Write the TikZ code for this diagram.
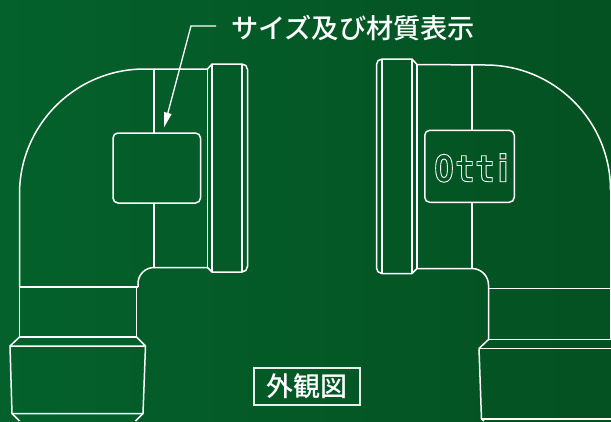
\documentclass[tikz,border=0pt]{standalone}
\usepackage{fontspec}
\usetikzlibrary{arrows.meta}
\newfontfamily\cjkm{Noto Sans CJK JP Medium}
\newfontfamily\monof[FakeStretch=0.88]{DejaVu Sans Mono Bold}
\newfontfamily\plainf[FakeStretch=0.88]{DejaVu Sans Bold}
\definecolor{bgl}{RGB}{4,97,43}
\definecolor{bgr}{RGB}{4,81,33}
\tikzset{
  part/.style={draw=white,line width=1.5pt,line join=round},
  plate/.style={part,rounded corners=5pt},
  leader/.style={draw=white,line width=1.3pt,-{Triangle[length=15pt,width=7.5pt]}},
  title/.style={text=white,inner sep=0pt,font=\cjkm\fontsize{27.2}{28}\selectfont},
  capbox/.style={draw=white!90!bgl,line width=1.5pt,inner sep=0pt,minimum width=106pt,minimum height=37pt,text=white,font=\cjkm\fontsize{27}{28}\selectfont}
}
\newcommand{\outl}[1]{\special{pdf:code q 1 Tr 0.9 w 1 1 1 RG}#1\special{pdf:code Q}}
\begin{document}
\begin{tikzpicture}[x=1pt,y=-1pt]
\useasboundingbox (0,0) rectangle (611,421);
\shade[left color=bgl,right color=bgr] (0,0) rectangle (611,421);
% left elbow
\draw[part] (19.5,287) -- (19.5,194) arc[start angle=180,end angle=270,radius=125] -- (207.5,69) -- (212,64)
  -- (242,64) arc[start angle=-90,end angle=0,radius=5.5] -- (247.5,266.5) arc[start angle=0,end angle=90,radius=5.5]
  -- (212,272) -- (207.5,267.5) -- (154,267.5) arc[start angle=270,end angle=180,radius=16] -- (138,287);
\draw[part] (207.5,69) -- (207.5,267.5);
\draw[part] (212,64) -- (212,272);
\draw[part] (242,64) -- (242,272);
\node[plate,minimum width=87.5pt,minimum height=70pt,inner sep=0pt] (plateL) at (156.75,168) {};
\draw[part] (154,69) -- (154,133);
\draw[part] (154,203) -- (154,267.5);
\draw[part] (19.5,287) -- (138,287);
\draw[part] (19.5,287) -- (19.5,337) -- (136.5,337) -- (136.5,287);
\draw[part] (19.5,337) -- (10,346) -- (145.5,346) -- (136.5,337);
\draw[part] (10,346) -- (12,413.5) -- (143,413.5) -- (145.5,346);
\draw[part] (12,413.5) -- (19.5,421);
\draw[part] (143,413.5) -- (135.5,421);
% right elbow
\draw[part] (610.5,190) arc[start angle=0,end angle=-90,radius=125] -- (417,64.5) -- (412,59)
  -- (382,59) arc[start angle=-90,end angle=-180,radius=5.5] -- (376.5,268) arc[start angle=180,end angle=90,radius=5.5]
  -- (412,273.5) -- (417,268.5) -- (472,268.5) arc[start angle=-90,end angle=0,radius=16.5] -- (488.5,339.5) -- (479,348.5) -- (481.5,419) -- (484,421);
\draw[part] (417,64.5) -- (417,268.5);
\draw[part] (412,59) -- (412,273.5);
\draw[part] (382,59) -- (382,273.5);
\draw[part] (610.5,190) -- (610.5,339);
\node[plate,minimum width=89.5pt,minimum height=72pt,inner sep=0pt] (plateR) at (469.5,166.3) {};
\draw[part] (472,64.5) -- (472,130.3);
\draw[part] (472,202.3) -- (472,268.5);
\draw[part] (488.5,288.5) -- (611,288.5);
\draw[part] (488.5,339.5) -- (611,339.5);
\draw[part] (479,348.5) -- (611,348.5);
\draw[part] (481.5,419) -- (611,419);
% lettering
\node[inner sep=0pt,anchor=base,text=white,font=\monof\fontsize{37}{37}\selectfont] (otti) at (471.4,181.7) {\outl{O\kern1.4ptt\kern0.4ptt\kern2.6pt{\plainf i}}};
\node[title,anchor=west] (ttl) at (231,28) {サイズ及び材質表示};
\coordinate (bendA) at (216,26);
\coordinate (bendB) at (191,26);
\draw[leader] (bendA) -- (bendB) -- (164,127.5);
\node[capbox] (cap) at (307,386.5) {外観図};
\end{tikzpicture}
\end{document}
